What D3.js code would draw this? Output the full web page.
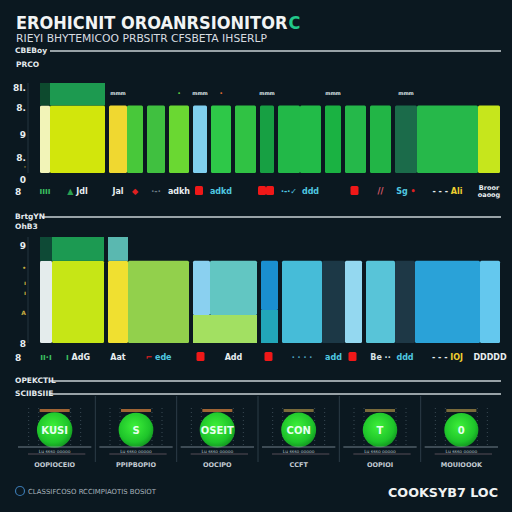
<!DOCTYPE html>
<meta charset="utf-8">
<style>
body { margin: 0; background: #0b1820; }
svg { display: block; font-family: "DejaVu Sans", sans-serif; }
.lbl { fill: #e4eaee; font-weight: bold; font-size: 7.5px; }
</style>
<div id="chart"></div>
<script src="https://d3js.org/d3.v7.min.js"></script>
<script>
// ---- data ----
var weight1 = [12, 57, 20, 18, 22, 24, 18, 24, 25, 18, 24, 23, 20, 25, 25, 24, 61, 24];
var base1   = [3, 3, 3, 3, 3, 3, 3, 3, 3, 3, 3, 3, 3, 3, 3, 3, 3, 3];
var peak1   = [1, 1, 0, 0, 0, 0, 0, 0, 0, 0, 0, 0, 0, 0, 0, 0, 0, 0];
var ticks1  = [3.8, 2.9, 1.7, 0.7, 0.25, -0.3];
var tickLabels1 = ["8I.", "8.", "9", "8.", "·", "0"];
var topLabels1 = ["", "", "mmm", "", "", "•", "mmm", "•", "", "mmm", "", "", "mmm", "", "", "mmm", "", ""];
var strip1 = [
  {t: "ıııı", c: "#3cc060"}, {t: "▲ ", c: "#2aa050", t2: "Jdl", c2: "#e8eef0"},
  {t: "Jal", c: "#e8eef0"}, {t: "◆", c: "#e02020"}, {t: "·-·", c: "#6a7a84"},
  {t: "adkh", c: "#e8eef0"}, {sq: 1}, {t: "adkd", c: "#50c8e0"}, {t: "", c: "#fff"},
  {sq: 2}, {t: "·-·✓", c: "#50c8e0"}, {t: "ddd", c: "#50c8e0"}, {t: "", c: "#fff"},
  {sq: 1}, {t: "//", c: "#e06070"}, {t: "Sg ", c: "#50c8e0", t2: "•", c2: "#e02020"},
  {t: "- - -  ", c: "#e8eef0", t2: "Ali", c2: "#f0d030"}, {two: ["Broor", "oaoog"]}
];

var weight2 = [14, 54, 22, 63, 19, 49, 21, 42, 23, 19, 31, 20, 65, 22];
var lower2  = [0, 0, 0, 0, 1.06, 1.06, 1.25, 0, 0, 0, 0, 0, 0, 0];
var upper2  = [3.1, 3.1, 3.1, 3.1, 2.04, 2.04, 1.85, 3.1, 3.1, 3.1, 3.1, 3.1, 3.1, 3.1];
var peak2   = [0.9, 0.9, 0.9, 0, 0, 0, 0, 0, 0, 0, 0, 0, 0, 0];
var ticks2  = [3.67, 2.83, 2.25, 1.89, 1.13, 0];
var tickLabels2 = ["9", "•", "ı", "ı", "A", "8"];
var strip2 = [
  {t: "ıı·ı", c: "#3cc060"}, {t: "ı  ", c: "#3cc060", t2: "AdG", c2: "#e8eef0"},
  {t: "Aat", c: "#e8eef0"}, {t: "⌐  ", c: "#e02020", t2: "ede", c2: "#50c8e0"},
  {sq: 1}, {t: "Add", c: "#e8eef0"}, {sq: 1}, {t: "· · ·  ·", c: "#50a0c0"},
  {t: "add", c: "#50c8e0"}, {sq: 1}, {t: "Be ··", c: "#d8e0e4"}, {t: "ddd", c: "#50c8e0"},
  {t: "- - -  ", c: "#e8eef0", t2: "IOJ", c2: "#f0d030"}, {t: "DDDDD", c: "#e8eef0"}
];

var scoreNames  = ["KUSI", "S", "OSEIT", "CON", "T", "0"];
var scoreValues = [91, 87, 90, 88, 86, 84];
var scoreCaps   = ["OOPIOCEIO", "PPIPBOPIO", "OOCIPO", "CCFT", "OOPIOI", "MOUIOOOK"];

// ---- styles ----
var upperColors1 = ["#f2f4b8", "#d2e60c", "#f0d830", "#48c83a", "#40c040", "#6ad832", "#80d0f0", "#2ec848", "#30c244",
                    "#17a043", "#22b848", "#22bb48", "#1ab242", "#25b84a", "#22b546", "#1b6b4a", "#26b84a", "#c6e61c"];
var peakColors1 = ["#0d4a2e", "#1d9a50"];
var join1 = [1, 3, 11, 16, 17];

var upperColors2 = ["#e4ecec", "#c6e616", "#f0e030", "#92d04c", "#8ad0f0", "#62c6c2", "#1a8fd0", "#46bcd8", "#1c3846",
                    "#94d8f0", "#58c4d8", "#1e3846", "#2aa2d8", "#64c8ee"];
var lowerColors2 = {4: "#a4e060", 5: "#a2e062", 6: "#22a6b8"};
var peakColors2 = ["#0e4a36", "#1c9a52", "#5ab8b0"];
var join2 = [1, 3, 5, 8, 9, 11, 12, 13];

var width = 512, height = 512;
var svg = d3.select("#chart").append("svg").attr("width", width).attr("height", height);
svg.append("rect").attr("width", width).attr("height", height).attr("fill", "#0b1820");

// header
var title = svg.append("text").attr("x", 16).attr("y", 29)
  .style("font-family", "'DejaVu Sans Condensed', 'DejaVu Sans', sans-serif")
  .style("font-size", "18px").style("font-weight", "bold").attr("fill", "#f2f4f4")
  .text("EROHICNIT OROANRSIONITOR");
var tw = title.node().getComputedTextLength();
svg.append("text").attr("x", 16 + tw + 1).attr("y", 29)
  .style("font-family", "'DejaVu Sans Condensed', 'DejaVu Sans', sans-serif")
  .style("font-size", "18px").style("font-weight", "bold").attr("fill", "#22c88a").text("C");
svg.append("text").attr("x", 16).attr("y", 42).attr("fill", "#d8dde0").style("font-size", "10px")
  .attr("textLength", 251).attr("lengthAdjust", "spacingAndGlyphs")
  .text("RIEYI BHYTEMICOO PRBSITR CFSBETA IHSERLP");

function sectionLine(y, label, x0) {
  svg.append("line").attr("x1", x0).attr("x2", 501).attr("y1", y).attr("y2", y)
    .attr("stroke", "#c8d0d4").attr("stroke-width", 1.3);
  svg.append("text").attr("class", "lbl").attr("x", 15).attr("y", y + 2).text(label);
}
sectionLine(51, "CBEBoy", 50);
svg.append("text").attr("class", "lbl").attr("x", 16).attr("y", 67).text("PRCO");

function barChart(o) {
  var total = d3.sum(o.weights), cum = d3.cumsum([0].concat(o.weights));
  var x = d3.scaleLinear().domain([0, total]).range([38, 502]);
  var y = d3.scaleLinear().domain([0, 4]).range([o.bottom, o.top]);
  var g = svg.append("g");

  // y labels
  g.append("line").attr("x1", 28).attr("x2", 28).attr("y1", o.top).attr("y2", o.bottom)
    .attr("stroke", "#24343e");
  o.ticks.forEach(function (v, i) {
    var small = o.tickSmall && o.tickSmall[i];
    g.append("text").attr("x", 26).attr("y", y(v) + (small ? 2 : 3.5)).attr("text-anchor", "end")
      .style("font-size", small ? "6px" : "9px").style("font-weight", "bold")
      .attr("fill", small ? "#c8b040" : "#e8eef0").text(o.tickLabels[i]);
  });

  var rows = o.weights.map(function (w, i) {
    var padL = o.join.indexOf(i) >= 0 ? 0 : 2;
    var padR = o.join.indexOf(i + 1) >= 0 ? 0 : 2;
    return {i: i, x0: x(cum[i]) + padL, x1: x(cum[i] + w) - padR,
      lower: o.lower ? o.lower[i] : 0, upper: o.upper[i], peak: o.peak[i]};
  });

  // lower segment
  g.append("g").selectAll("rect").data(rows.filter(function (d) { return d.lower > 0; })).join("rect")
    .attr("x", function (d) { return d.x0; }).attr("width", function (d) { return d.x1 - d.x0; })
    .attr("y", function (d) { return y(d.lower); }).attr("height", function (d) { return y(0) - y(d.lower); })
    .attr("fill", function (d) { return o.lowerColors[d.i]; });
  // upper segment
  g.append("g").selectAll("rect").data(rows).join("rect")
    .attr("x", function (d) { return d.x0; }).attr("width", function (d) { return d.x1 - d.x0; })
    .attr("y", function (d) { return y(d.lower + d.upper); })
    .attr("height", function (d) { return y(d.lower) - y(d.lower + d.upper); })
    .attr("rx", 1.5)
    .attr("fill", function (d) { return o.upperColors[d.i]; });
  // peak segment
  g.append("g").selectAll("rect").data(rows.filter(function (d) { return d.peak > 0; })).join("rect")
    .attr("x", function (d) { return d.x0; }).attr("width", function (d) { return d.x1 - d.x0; })
    .attr("y", function (d) { return y(d.lower + d.upper + d.peak); })
    .attr("height", function (d) { return y(d.lower + d.upper) - y(d.lower + d.upper + d.peak); })
    .attr("fill", function (d) { return o.peakColors[d.i]; });

  if (o.topLabels) g.append("g").selectAll("text").data(rows).join("text")
    .attr("x", function (d) { return (d.x0 + d.x1) / 2; }).attr("y", o.top + 12)
    .attr("text-anchor", "middle").style("font-size", "5px").style("font-weight", "bold")
    .attr("fill", function (d, i) { return o.topLabels[i] === "•" ? (i === 5 ? "#60d040" : "#e07030") : "#dfe6ea"; })
    .text(function (d, i) { return o.topLabels[i]; });

  // legend strip under the bars
  var sy = o.bottom + o.stripOff;
  g.append("text").attr("x", 15).attr("y", sy + 4)
    .style("font-size", "9px").style("font-weight", "bold").attr("fill", "#e8eef0").text("8");
  rows.forEach(function (d) {
    var it = o.strip[d.i], cx = (d.x0 + d.x1) / 2;
    if (it.sq) {
      for (var k = 0; k < it.sq; k++)
        g.append("rect").attr("x", cx - 5 + k * 8 - (it.sq - 1) * 4).attr("y", sy - 5)
          .attr("width", 8).attr("height", 9).attr("rx", 1.5).attr("fill", "#f01818");
    } else if (it.two) {
      it.two.forEach(function (s, k) {
        g.append("text").attr("x", cx).attr("y", sy - 1 + k * 7).attr("text-anchor", "middle")
          .style("font-size", "6.5px").style("font-weight", "bold").attr("fill", "#e8eef0").text(s);
      });
    } else {
      var t = g.append("text").attr("x", cx).attr("y", sy + 3).attr("text-anchor", "middle")
        .style("font-size", "8px").style("font-weight", "bold");
      t.append("tspan").attr("fill", it.c).text(it.t);
      if (it.t2) t.append("tspan").attr("fill", it.c2).text(it.t2);
    }
  });
}

barChart({weights: weight1, upper: base1, peak: peak1, top: 83, bottom: 173,
  ticks: ticks1, tickLabels: tickLabels1, tickSmall: [0, 0, 0, 0, 1, 0], join: join1,
  upperColors: upperColors1, peakColors: peakColors1,
  topLabels: topLabels1, strip: strip1, stripOff: 18});

sectionLine(217, "BrtgYN", 42);
svg.append("text").attr("class", "lbl").attr("x", 15).attr("y", 229).text("OhB3");

barChart({weights: weight2, lower: lower2, upper: upper2, peak: peak2, top: 237, bottom: 343,
  ticks: ticks2, tickLabels: tickLabels2, tickSmall: [0, 1, 1, 1, 1, 0], join: join2,
  upperColors: upperColors2, lowerColors: lowerColors2, peakColors: peakColors2,
  strip: strip2, stripOff: 14});

// score panels
sectionLine(381, "OPEKCTIL", 50);
sectionLine(394, "SCIIBSIIE", 50);

var defs = svg.append("defs");
var grad = defs.append("radialGradient").attr("id", "ball").attr("cx", "45%").attr("cy", "40%").attr("r", "60%");
grad.append("stop").attr("offset", "0%").attr("stop-color", "#3ef03a");
grad.append("stop").attr("offset", "75%").attr("stop-color", "#1ec42a");
grad.append("stop").attr("offset", "100%").attr("stop-color", "#149a22");

var band = d3.scaleBand().domain(d3.range(scoreNames.length)).range([14, 502]);
var r = d3.scaleSqrt().domain([0, 100]).range([0, 18.6]);
var panels = svg.append("g").selectAll("g").data(scoreValues).join("g")
  .attr("transform", function (d, i) { return "translate(" + band(i) + ",0)"; });
var bw = band.bandwidth();
panels.filter(function (d, i) { return i > 0; }).append("line")
  .attr("x1", 0).attr("x2", 0).attr("y1", 396).attr("y2", 462).attr("stroke", "#2c3c46");
[-26, -16, 16, 26].forEach(function (dx) {
  panels.append("line").attr("x1", bw / 2 + dx).attr("x2", bw / 2 + dx).attr("y1", 408).attr("y2", 446)
    .attr("stroke", "#3a4a54").attr("stroke-dasharray", "1,3");
});
panels.append("rect").attr("x", bw / 2 - 15).attr("y", 409).attr("width", 30).attr("height", 3)
  .attr("fill", function (d, i) { return i < 3 ? "#a06434" : "#7a6a3a"; });
panels.append("circle").attr("cx", bw / 2).attr("cy", 430).attr("r", function (d) { return r(d); })
  .attr("fill", "url(#ball)");
panels.append("text").attr("x", bw / 2).attr("y", 434).attr("text-anchor", "middle")
  .style("font-size", "10px").style("font-weight", "bold").attr("fill", "#e6fff0")
  .text(function (d, i) { return scoreNames[i]; });
panels.append("line").attr("x1", 4).attr("x2", bw - 4).attr("y1", 447).attr("y2", 447)
  .attr("stroke", "#8a9aa4").attr("stroke-width", 0.8);
panels.append("line").attr("x1", 14).attr("x2", bw - 10).attr("y1", 454).attr("y2", 454)
  .attr("stroke", "#6a5a64").attr("stroke-width", 0.8);
panels.append("text").attr("x", bw / 2).attr("y", 453).attr("text-anchor", "middle")
  .style("font-size", "4.5px").attr("fill", "#b8c4cc").text("Lu ssso ooooo");
panels.append("text").attr("x", bw / 2).attr("y", 467).attr("text-anchor", "middle")
  .style("font-size", "6.5px").style("font-weight", "bold").attr("fill", "#c4ccd4")
  .text(function (d, i) { return scoreCaps[i]; });

// footer
svg.append("circle").attr("cx", 20).attr("cy", 491).attr("r", 4.5).attr("fill", "none")
  .attr("stroke", "#3a78b0").attr("stroke-width", 1.2);
svg.append("text").attr("x", 28).attr("y", 494).style("font-size", "7px").attr("fill", "#a8b4bc")
  .attr("textLength", 128).attr("lengthAdjust", "spacingAndGlyphs").text("CLASSIFCOSO RCCIMPIAOTIS BOSIOT");
svg.append("text").attr("x", 388).attr("y", 497).style("font-size", "13px").style("font-weight", "bold")
  .attr("fill", "#f0f2f2").attr("textLength", 110).attr("lengthAdjust", "spacingAndGlyphs").text("COOKSYB7 LOC");
</script>
